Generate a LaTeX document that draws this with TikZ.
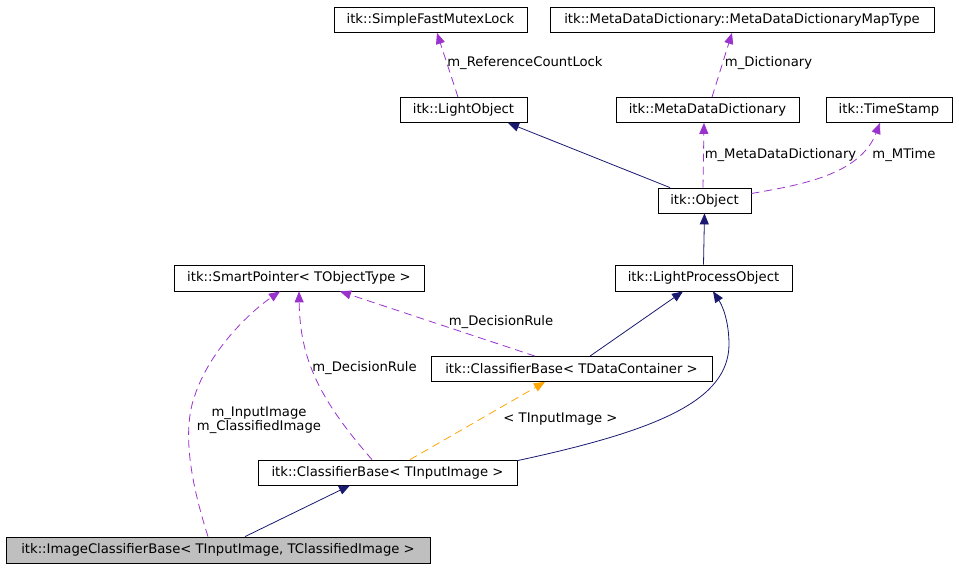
\documentclass[tikz,border=0pt]{standalone}
\usepackage{fontspec}
\setmainfont{DejaVu Sans}
\usetikzlibrary{arrows.meta,calc}
\definecolor{navyc}{HTML}{191970}
\definecolor{purpc}{HTML}{9A32CD}
\definecolor{orangec}{HTML}{FFA500}
\begin{document}
\begin{tikzpicture}[x=1pt,y=-1pt,
  cls/.style={draw=black,line width=0.8pt,inner sep=0pt,minimum height=25pt,font=\fontsize{13.2}{14.5}\selectfont,text=black},
  lbl/.style={inner sep=0pt,font=\fontsize{13.2}{14.5}\selectfont,align=center},
  inh/.style={draw=navyc,line width=0.8pt,-{Triangle[length=11pt,width=9pt]},color=navyc},
  use/.style={draw=purpc,line width=0.8pt,dash pattern=on 8pt off 5pt,-{Triangle[length=11pt,width=9pt]},color=purpc},
  tmpl/.style={draw=orangec,line width=0.8pt,dash pattern=on 8pt off 5pt,-{Triangle[length=11pt,width=9pt]},color=orangec}]
\useasboundingbox (0,0) rectangle (959,568);
\node[cls,minimum width=193pt] (mutex) at (430.5,20) {itk::SimpleFastMutexLock};
\node[cls,minimum width=384pt] (maptype) at (742,20) {itk::MetaDataDictionary::MetaDataDictionaryMapType};
\node[cls,minimum width=127pt] (lo) at (463.5,110) {itk::LightObject};
\node[cls,minimum width=183pt] (mdd) at (707.5,110) {itk::MetaDataDictionary};
\node[cls,minimum width=126pt] (ts) at (889,110) {itk::TimeStamp};
\node[cls,minimum width=93pt] (obj) at (704.5,200.5) {itk::Object};
\node[cls,minimum width=177pt,minimum height=26pt] (lpo) at (703.5,278) {itk::LightProcessObject};
\node[cls,minimum width=250pt,minimum height=26pt] (sp) at (299,278) {itk::SmartPointer< TObjectType >};
\node[cls,minimum width=281pt] (cbd) at (571.5,369) {itk::ClassifierBase< TDataContainer >};
\node[cls,minimum width=259pt] (cbi) at (387.5,472.5) {itk::ClassifierBase< TInputImage >};
\node[cls,minimum width=424pt,minimum height=26pt,fill=black!25] (icb) at (218,550) {itk::ImageClassifierBase< TInputImage, TClassifiedImage >};

\draw[inh] ($(obj.north)+(-34.5,0)$) -- ($(lo.south)+(44.5,0)$);
\draw[use] ($(lo.north)+(-5.5,0)$) -- ($(mutex.south)+(6.5,0)$);
\node[lbl] (l1) at (525,63) {m\_ReferenceCountLock};
\draw[use] ($(mdd.north)+(4.5,0)$) -- ($(maptype.south)+(-10,0)$);
\node[lbl] (l2) at (768.5,63) {m\_Dictionary};
\draw[use] ($(obj.north)+(-1.5,0)$) -- ($(mdd.south)+(-3.5,0)$);
\node[lbl] (l3) at (780.5,155) {m\_MetaDataDictionary};
\draw[use] ($(obj.east)+(0,-7)$) .. controls (800,185) and (860,175) .. ($(ts.south)+(-9,0)$);
\node[lbl] (l4) at (904,155) {m\_MTime};
\draw[inh] (lpo.north) -- (obj.south);
\draw[inh] ($(cbd.north)+(18.5,0)$) -- ($(lpo.south)+(-20.5,0)$);
\draw[inh] ($(cbi.north east)+(0,1)$) .. controls (660,430) and (728,400) .. (729,345) .. controls (729,320) and (722,305) .. ($(lpo.south)+(9.5,0)$);
\draw[use] ($(cbd.north)+(-36.5,0)$) -- ($(sp.south)+(41,0)$);
\node[lbl] (l5) at (501,322) {m\_DecisionRule};
\draw[use] ($(cbi.north)+(-15.5,0)$) .. controls (320,400) and (300,360) .. (sp.south);
\node[lbl] (l6) at (364.5,368) {m\_DecisionRule};
\draw[use] ($(icb.north)+(-10,0)$) .. controls (190,480) and (182,430) .. (195,395) .. controls (210,350) and (250,312) .. ($(sp.south)+(-19,0)$);
\node[lbl] (l7) at (259,420) {m\_InputImage\\m\_ClassifiedImage};
\draw[tmpl] ($(cbi.north)+(22.5,0)$) -- ($(cbd.south)+(-26.5,0)$);
\node[lbl] (l8) at (560.5,419) {< TInputImage >};
\draw[inh] ($(icb.north)+(27,0)$) -- ($(cbi.south)+(-37.5,0)$);
\end{tikzpicture}
\end{document}
